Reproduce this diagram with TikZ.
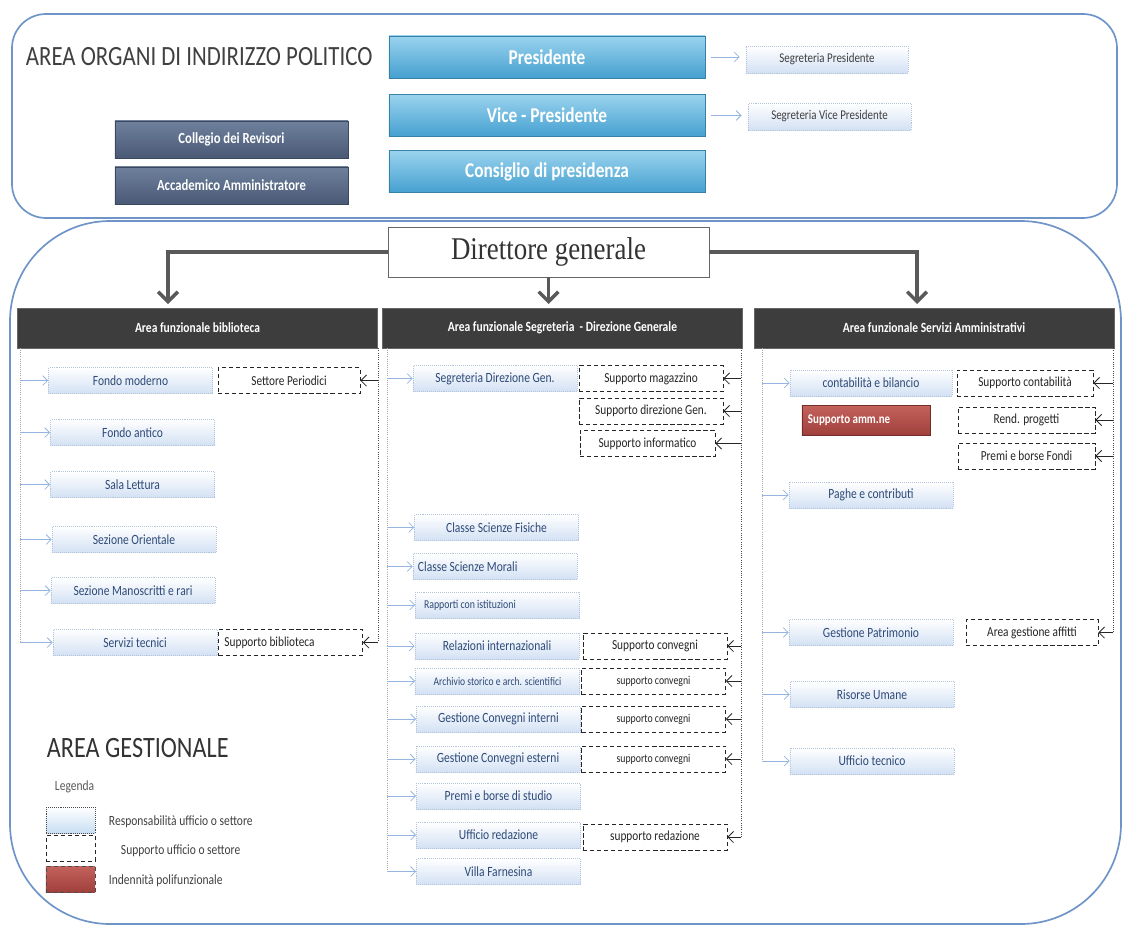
\documentclass[tikz,border=0pt]{standalone}
\usepackage{fontspec}
\setmainfont{Carlito}[FakeStretch=0.82]
\newfontfamily\dirfont{Liberation Serif}[FakeStretch=0.85]
\usetikzlibrary{arrows.meta}

\definecolor{bordo}{HTML}{6F95C8}
\definecolor{azzurro1}{HTML}{9AD3EE}
\definecolor{azzurro2}{HTML}{45A0D0}
\definecolor{ardesia1}{HTML}{6E809C}
\definecolor{ardesia2}{HTML}{4A5A76}
\definecolor{grigioscuro}{HTML}{3D3D3D}
\definecolor{respbordo}{HTML}{B4C4DA}
\definecolor{resptesto}{HTML}{2E4A78}
\definecolor{respfondo}{HTML}{D3E1F4}
\definecolor{rosso1}{HTML}{C4625C}
\definecolor{rosso2}{HTML}{A0403C}
\definecolor{freccia}{HTML}{95B5E0}

\begin{document}
\begin{tikzpicture}[x=0.025cm, y=-0.025cm,
    area/.style={draw=bordo, line width=1.2pt},
    vertice/.style={draw=azzurro2!80!black, top color=azzurro1, bottom color=azzurro2,
      text=white, font=\bfseries\fontsize{15}{17}\selectfont,
      minimum width=7.9cm, minimum height=1.05cm},
    organo/.style={draw=ardesia2!80!black, top color=ardesia1, bottom color=ardesia2,
      text=white, font=\bfseries\fontsize{11}{13}\selectfont,
      minimum width=5.83cm, minimum height=0.93cm},
    resp/.style={draw=respbordo, densely dotted, top color=white, bottom color=respfondo,
      text=resptesto, font=\fontsize{10}{12}\selectfont,
      minimum width=4.1cm, minimum height=0.65cm, inner sep=1pt},
    respsx/.style={resp, text width=3.85cm, align=flush left, inner xsep=0.125cm},
    supp/.style={draw=black!85, densely dashed, fill=white, text=black!85,
      font=\fontsize{9.8}{12}\selectfont,
      minimum width=3.6cm, minimum height=0.65cm, inner sep=1pt},
    polif/.style={draw=rosso2!70!black, top color=rosso1, bottom color=rosso2,
      text=white, font=\bfseries\fontsize{9.5}{11}\selectfont,
      text width=2.9cm, align=flush left, inner xsep=0.15cm, minimum height=0.75cm},
    testata/.style={fill=grigioscuro, draw=black!60, text=white,
      font=\bfseries\fontsize{10}{12}\selectfont,
      minimum width=9cm, minimum height=1cm},
    direttore/.style={draw=black!60, fill=white, text=black!80,
      font=\dirfont\fontsize{22.5}{26}\selectfont,
      minimum width=8.03cm, minimum height=1.25cm},
    freccione/.style={draw=black!65, line width=2.4pt, ->,
      >={Straight Barb[length=7pt,width=14pt]}},
    collega/.style={draw=freccia, line width=0.6pt, ->,
      >={Straight Barb[length=3.5pt,width=7pt]}},
    supporta/.style={draw=black!85, line width=0.6pt, ->,
      >={Straight Barb[length=4pt,width=8pt]}},
    lineagrigia/.style={draw=gray!70, densely dotted, line width=0.5pt},
    lineanera/.style={draw=black!70, densely dotted, line width=0.6pt}]

    \useasboundingbox (0,0) rectangle (1125,928);

    % Area organi di indirizzo politico
    \draw[area, rounded corners=0.85cm] (12,14) rectangle (1117,218);
    \node[anchor=west, text=black!75, font=\fontsize{19.8}{23}\selectfont] (areaorg) at (21,57) {AREA ORGANI DI INDIRIZZO POLITICO};

    \node[vertice] (pres) at (547,57) {Presidente};
    \node[vertice] (vice) at (547,115.5) {Vice - Presidente};
    \node[vertice] (consiglio) at (547,171.5) {Consiglio di presidenza};

    \node[resp, text=black!75, font=\fontsize{9.5}{11}\selectfont, minimum width=4.05cm, minimum height=0.68cm] (segpres) at (827,59.5) {Segreteria Presidente};
    \node[resp, text=black!75, font=\fontsize{9.5}{11}\selectfont, minimum width=4.08cm, minimum height=0.68cm] (segvice) at (829.5,116.5) {Segreteria Vice Presidente};

    \node[organo] (collegio) at (231.5,139.5) {Collegio dei Revisori};
    \node[organo] (accad) at (231.5,185.5) {Accademico Amministratore};

    \draw[collega, shorten <=0.15cm, shorten >=0.15cm] (pres.east) -- (pres.east -| segpres.west);
    \draw[collega, shorten <=0.15cm, shorten >=0.15cm] (vice.east) -- (vice.east -| segvice.west);

    % Area gestionale
    \draw[area, rounded corners=2.5cm] (10,221) rectangle (1121,924);

    \node[direttore] (dir) at (548.5,252) {Direttore generale};

    \node[testata] (hdrL) at (197.5,328) {Area funzionale biblioteca};
    \node[testata] (hdrM) at (562.5,328) {Area funzionale Segreteria \ - Direzione Generale};
    \node[testata] (hdrR) at (934,328) {Area funzionale Servizi Amministrativi};

    \coordinate (puntaL) at (168,304);
    \coordinate (puntaR) at (917,304);
    \draw[freccione] (dir.west) -| (puntaL);
    \draw[freccione] (dir.south) -- (dir.south |- puntaL);
    \draw[freccione] (dir.east) -| (puntaR);

    % Colonna biblioteca
    \node[resp] (fondomod) at (130.5,380.5) {Fondo moderno};
    \node[resp] (fondoant) at (132.5,432.5) {Fondo antico};
    \node[resp] (sala) at (132.5,484.5) {Sala Lettura};
    \node[resp] (sezori) at (134,539.5) {Sezione Orientale};
    \node[resp] (sezman) at (133,590.5) {Sezione Manoscritti e rari};
    \node[resp] (servtec) at (135,642.5) {Servizi tecnici};

    \node[supp, minimum width=3.55cm] (settper) at (289,380.5) {Settore Periodici};
    \node[supp, text width=3.3cm, align=flush left, inner xsep=0.14cm] (suppbib) at (290.5,642.5) {Supporto biblioteca};

    \coordinate (aL) at (20,348);
    \coordinate (bL) at (378,348);
    \draw[lineagrigia] (aL) -- (aL |- servtec.west);
    \draw[lineanera] (bL) -- (bL |- suppbib.east);

    \draw[collega] (aL |- fondomod.west) -- (fondomod.west);
    \draw[collega] (aL |- fondoant.west) -- (fondoant.west);
    \draw[collega] (aL |- sala.west) -- (sala.west);
    \draw[collega] (aL |- sezori.west) -- (sezori.west);
    \draw[collega] (aL |- sezman.west) -- (sezman.west);
    \draw[collega] (aL |- servtec.west) -- (servtec.west);
    \draw[supporta] (bL |- settper.east) -- (settper.east);
    \draw[supporta] (bL |- suppbib.east) -- (suppbib.east);

    % Colonna segreteria - direzione generale
    \node[resp] (segdir) at (495,378.5) {Segreteria Direzione Gen.};
    \node[resp] (fisiche) at (496.5,527.5) {Classe Scienze Fisiche};
    \node[respsx] (morali) at (495,566.5) {Classe Scienze Morali};
    \node[respsx, font=\fontsize{8.5}{10}\selectfont] (rapporti) at (497.5,605) {\hspace{0.3em}Rapporti con istituzioni};
    \node[resp] (relazioni) at (497,646) {Relazioni internazionali};
    \node[resp, font=\fontsize{8.3}{10}\selectfont] (archivio) at (497.5,681) {Archivio storico e arch. scientifici};
    \node[resp] (gestint) at (498.5,719) {Gestione Convegni interni};
    \node[resp] (gestest) at (498,759) {Gestione Convegni esterni};
    \node[resp] (premi) at (498.5,796) {Premi e borse di studio};
    \node[resp] (uffred) at (498.5,835) {Ufficio redazione};
    \node[resp] (villa) at (498.5,871.5) {Villa Farnesina};

    \node[supp] (suppmag) at (651,378.5) {Supporto magazzino};
    \node[supp] (suppdir) at (651,411) {Supporto direzione Gen.};
    \node[supp, minimum width=3.38cm] (suppinf) at (647.5,443.5) {Supporto informatico};
    \node[supp] (suppconv1) at (655,646) {Supporto convegni};
    \node[supp, font=\fontsize{8.5}{10}\selectfont] (suppconv2) at (653.5,681) {supporto convegni};
    \node[supp, font=\fontsize{8.5}{10}\selectfont] (suppconv3) at (653.5,719) {supporto convegni};
    \node[supp, font=\fontsize{8.5}{10}\selectfont] (suppconv4) at (653.5,759) {supporto convegni};
    \node[supp] (suppred) at (655,837) {supporto redazione};

    \coordinate (aM) at (387,348);
    \coordinate (bM) at (741,348);
    \draw[lineagrigia] (aM) -- (aM |- villa.west);
    \draw[lineanera] (bM) -- (bM |- suppred.east);

    \draw[collega] (aM |- segdir.west) -- (segdir.west);
    \draw[collega] (aM |- fisiche.west) -- (fisiche.west);
    \draw[collega] (aM |- morali.west) -- (morali.west);
    \draw[collega] (aM |- rapporti.west) -- (rapporti.west);
    \draw[collega] (aM |- relazioni.west) -- (relazioni.west);
    \draw[collega] (aM |- archivio.west) -- (archivio.west);
    \draw[collega] (aM |- gestint.west) -- (gestint.west);
    \draw[collega] (aM |- gestest.west) -- (gestest.west);
    \draw[collega] (aM |- premi.west) -- (premi.west);
    \draw[collega] (aM |- uffred.west) -- (uffred.west);
    \draw[collega] (aM |- villa.west) -- (villa.west);
    \draw[supporta] (bM |- suppmag.east) -- (suppmag.east);
    \draw[supporta] (bM |- suppdir.east) -- (suppdir.east);
    \draw[supporta] (bM |- suppinf.east) -- (suppinf.east);
    \draw[supporta] (bM |- suppconv1.east) -- (suppconv1.east);
    \draw[supporta] (bM |- suppconv2.east) -- (suppconv2.east);
    \draw[supporta] (bM |- suppconv3.east) -- (suppconv3.east);
    \draw[supporta] (bM |- suppconv4.east) -- (suppconv4.east);
    \draw[supporta] (bM |- suppred.east) -- (suppred.east);

    % Colonna servizi amministrativi
    \node[resp, minimum width=4.05cm] (contab) at (871,383) {contabilità e bilancio};
    \node[polif] (suppamm) at (866,420) {Supporto amm.ne};
    \node[resp] (paghe) at (871,495) {Paghe e contributi};
    \node[resp] (gestpat) at (871,632.5) {Gestione Patrimonio};
    \node[resp] (risorse) at (872,694.5) {Risorse Umane};
    \node[resp] (uffte) at (872,761) {Ufficio tecnico};

    \node[supp, minimum width=3.4cm] (suppcont) at (1025,383) {Supporto contabilità};
    \node[supp, minimum width=3.43cm] (rend) at (1026.5,420) {Rend. progetti};
    \node[supp, minimum width=3.43cm] (premifondi) at (1026.5,456) {Premi e borse Fondi};
    \node[supp, minimum width=3.3cm] (affitti) at (1032,632.5) {Area gestione affitti};

    \coordinate (aR) at (762,348);
    \coordinate (bR) at (1113,348);
    \draw[lineagrigia] (aR) -- (aR |- uffte.west);
    \draw[lineanera] (bR) -- (bR |- affitti.east);

    \draw[collega] (aR |- contab.west) -- (contab.west);
    \draw[collega] (aR |- paghe.west) -- (paghe.west);
    \draw[collega] (aR |- gestpat.west) -- (gestpat.west);
    \draw[collega] (aR |- risorse.west) -- (risorse.west);
    \draw[collega] (aR |- uffte.west) -- (uffte.west);
    \draw[supporta] (bR |- suppcont.east) -- (suppcont.east);
    \draw[supporta] (bR |- rend.east) -- (rend.east);
    \draw[supporta] (bR |- premifondi.east) -- (premifondi.east);
    \draw[supporta] (bR |- affitti.east) -- (affitti.east);

    % Legenda
    \node[anchor=west, text=black!80, font=\fontsize{21}{24}\selectfont] (areages) at (42,748) {AREA GESTIONALE};
    \node[anchor=west, text=black!65, font=\fontsize{10}{12}\selectfont] (legenda) at (50,787) {Legenda};

    \node[resp, minimum width=1.23cm, draw=black!70, bottom color=respfondo!80!azzurro1] (leg1) at (70.5,820) {};
    \node[supp, minimum width=1.23cm] (leg2) at (70.5,848.5) {};
    \node[draw=black!70, densely dashed, top color=rosso1, bottom color=rosso2, minimum width=1.23cm, minimum height=0.65cm] (leg3) at (70.5,879) {};

    \node[anchor=west, text=black!75, font=\fontsize{10}{12}\selectfont] (lab1) at (104,822) {Responsabilità ufficio o settore};
    \node[anchor=west, text=black!75, font=\fontsize{10}{12}\selectfont] (lab2) at (116,851) {Supporto ufficio o settore};
    \node[anchor=west, text=black!75, font=\fontsize{10}{12}\selectfont] (lab3) at (104,881) {Indennità polifunzionale};
\end{tikzpicture}
\end{document}
